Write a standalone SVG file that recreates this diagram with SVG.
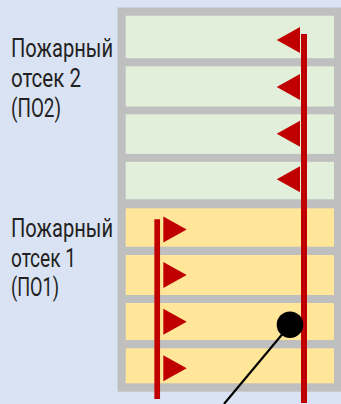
<svg xmlns="http://www.w3.org/2000/svg" width="341" height="404" viewBox="0 0 341 404">
<style>
.lbl{font-family:Roboto,"Liberation Sans",sans-serif;font-size:26px;fill:#222;}
.g{fill:#e2efda;}
.y{fill:#ffe699;}
.tri{fill:#c00000;}
.red{stroke:#c00000;fill:none;}
</style>
<rect x="0" y="0" width="341" height="404" fill="#dae3f3"/>
<g id="building">
<rect x="117.5" y="7.5" width="223.5" height="384.2" fill="#bfbfbf"/>
</g>
<g id="po2">
<rect class="g" x="125.7" y="15.7" width="208.3" height="42.5"/>
<rect class="g" x="125.7" y="66.3" width="208.3" height="40.2"/>
<rect class="g" x="125.7" y="114.3" width="208.3" height="39.6"/>
<rect class="g" x="125.7" y="161.8" width="208.3" height="37.5"/>
<text class="lbl"><tspan x="11" y="56.7" textLength="102" lengthAdjust="spacingAndGlyphs">Пожарный</tspan><tspan x="11" y="86.7" textLength="70" lengthAdjust="spacingAndGlyphs">отсек 2</tspan><tspan x="11" y="116.7" textLength="50" lengthAdjust="spacingAndGlyphs">(ПО2)</tspan></text>
</g>
<g id="po1">
<rect class="y" x="125.7" y="208.3" width="208.3" height="38.4"/>
<rect class="y" x="125.7" y="255" width="208.3" height="40"/>
<rect class="y" x="125.7" y="303" width="208.3" height="37"/>
<rect class="y" x="125.7" y="348.3" width="208.3" height="35"/>
<text class="lbl"><tspan x="11" y="236.7" textLength="102" lengthAdjust="spacingAndGlyphs">Пожарный</tspan><tspan x="11" y="266.7" textLength="65" lengthAdjust="spacingAndGlyphs">отсек 1</tspan><tspan x="11" y="295.5" textLength="48" lengthAdjust="spacingAndGlyphs">(ПО1)</tspan></text>
</g>
<g id="connectors">
<line class="red" x1="304" y1="34" x2="304" y2="403" stroke-width="6"/>
<line class="red" x1="157.2" y1="219.3" x2="157.2" y2="399" stroke-width="5.7"/>
<polygon class="tri" points="276.7,40 300,27 300,53"/>
<polygon class="tri" points="276.7,87 300,74 300,100"/>
<polygon class="tri" points="276.7,133.7 300,120.7 300,146.7"/>
<polygon class="tri" points="276.7,179.3 300,166.3 300,192.3"/>
<polygon class="tri" points="186.7,229.5 163.3,216.5 163.3,242.5"/>
<polygon class="tri" points="186.7,275 163.3,262 163.3,288"/>
<polygon class="tri" points="186.7,321.7 163.3,308.7 163.3,334.7"/>
<polygon class="tri" points="186.7,368.3 163.3,355.3 163.3,381.3"/>
<line x1="290" y1="325" x2="224" y2="404" stroke="#000" stroke-width="2.2"/>
<circle cx="290" cy="324.7" r="13.3" fill="#000"/>
</g>
</svg>
